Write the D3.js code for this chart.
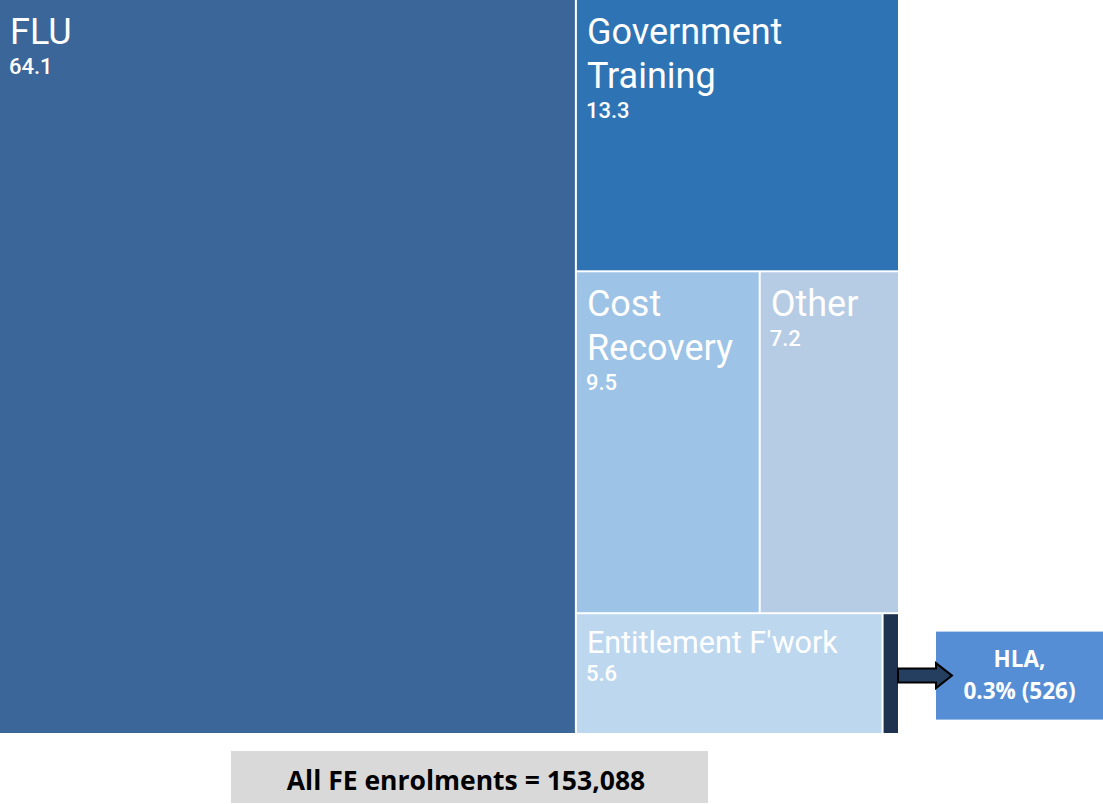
<!DOCTYPE html>
<html>
<head>
<meta charset="utf-8">
<script src="https://cdn.jsdelivr.net/npm/d3@7"></script>
<style>
  html, body { margin: 0; padding: 0; background: #ffffff; }
  svg { display: block; }
</style>
</head>
<body>
<svg id="chart" width="1103" height="804"></svg>
<script>
// Shares of further-education enrolments by funding source (%)
const categories = ["FLU", "Government Training", "Cost Recovery", "Other", "Entitlement F'work", "HLA"];
const values = [64.1, 13.3, 9.5, 7.2, 5.6, 0.3];
const labelLines = [["FLU"], ["Government", "Training"], ["Cost", "Recovery"], ["Other"], ["Entitlement F'work"], []];
const colors = ["#3b6699", "#2e74b5", "#9dc3e6", "#b6cbe4", "#bdd7ee", "#1f3350"];
const totalEnrolments = 153088;
const hlaEnrolments = 526;

// Nesting of the tiles: alternating column / row splits
const layoutTree = [0, [1, [2, 3], [4, 5]]];

function build(node) {
  if (Array.isArray(node)) return { children: node.map(build) };
  return { index: node, name: categories[node], value: values[node] };
}

const root = d3.hierarchy(build(layoutTree))
  .sum(d => d.value || 0);

d3.treemap()
  .size([898, 733])
  .paddingInner(2)
  .round(false)
  .tile((node, x0, y0, x1, y1) => {
    (node.depth % 2 === 0 ? d3.treemapDice : d3.treemapSlice)(node, x0, y0, x1, y1);
  })(root);

const svg = d3.select("#chart");
const leaves = root.leaves();

const cell = svg.append("g").selectAll("g")
  .data(leaves)
  .join("g")
  .attr("transform", d => `translate(${d.x0},${d.y0})`);

cell.append("rect")
  .attr("width", d => d.x1 - d.x0)
  .attr("height", d => d.y1 - d.y0)
  .attr("fill", d => colors[d.data.index]);

// Category names and values in the top-left corner of each tile
cell.each(function (d) {
  const g = d3.select(this);
  const lines = labelLines[d.data.index];
  if (!lines.length) return;
  const small = d.data.index === 4;
  const nameSize = small ? 30.5 : 36;
  const first = small ? 39 : 44;
  lines.forEach((t, i) => {
    g.append("text")
      .attr("x", 10)
      .attr("y", first + i * 44)
      .attr("fill", "#ffffff")
      .attr("font-family", "Roboto, 'Open Sans', sans-serif")
      .attr("font-size", nameSize)
      .text(t);
  });
  g.append("text")
    .attr("x", 9)
    .attr("y", first + (lines.length - 1) * 44 + (small ? 28 : 30))
    .attr("fill", "#ffffff")
    .attr("font-family", "Roboto, 'Open Sans', sans-serif")
    .attr("font-size", 22)
    .attr("font-weight", 500)
    .text(d3.format(".1f")(d.value));
});

// Callout for the narrow HLA tile
const hla = leaves.find(d => d.data.index === 5);
const midY = (hla.y0 + hla.y1) / 2;
const boxX = 936, boxW = 167, boxH = 88;

svg.append("rect")
  .attr("x", boxX)
  .attr("y", midY - boxH / 2 + 2)
  .attr("width", boxW)
  .attr("height", boxH)
  .attr("fill", "#558ed5");

const ax0 = hla.x1, ax1 = boxX, tip = boxX + 16;
const cy = midY + 2;
svg.append("path")
  .attr("d", `M${ax0},${cy - 7}H${ax1}V${cy - 12.5}L${tip},${cy}L${ax1},${cy + 12.5}V${cy + 7}H${ax0}Z`)
  .attr("fill", "#243f60")
  .attr("stroke", "#000000")
  .attr("stroke-width", 2)
  .attr("stroke-linejoin", "miter");

const hlaText = svg.append("text")
  .attr("text-anchor", "middle")
  .attr("fill", "#ffffff")
  .attr("font-family", "'Open Sans', 'Liberation Sans', sans-serif")
  .attr("font-weight", 700)
  .attr("font-size", 22.5);
hlaText.append("tspan")
  .attr("x", boxX + boxW / 2)
  .attr("y", midY - 7)
  .text(hla.data.name + ",");
hlaText.append("tspan")
  .attr("x", boxX + boxW / 2)
  .attr("y", midY + 25)
  .text(`${d3.format(".1f")(hla.value)}% (${hlaEnrolments})`);

// Total enrolments banner
svg.append("rect")
  .attr("x", 231)
  .attr("y", 751)
  .attr("width", 477)
  .attr("height", 52)
  .attr("fill", "#d9d9d9");

svg.append("text")
  .attr("x", 466)
  .attr("y", 790)
  .attr("text-anchor", "middle")
  .attr("fill", "#000000")
  .attr("font-family", "'Open Sans', 'Liberation Sans', sans-serif")
  .attr("font-weight", 700)
  .attr("font-size", 26.5)
  .text(`All FE enrolments = ${d3.format(",")(totalEnrolments)}`);
</script>
</body>
</html>
